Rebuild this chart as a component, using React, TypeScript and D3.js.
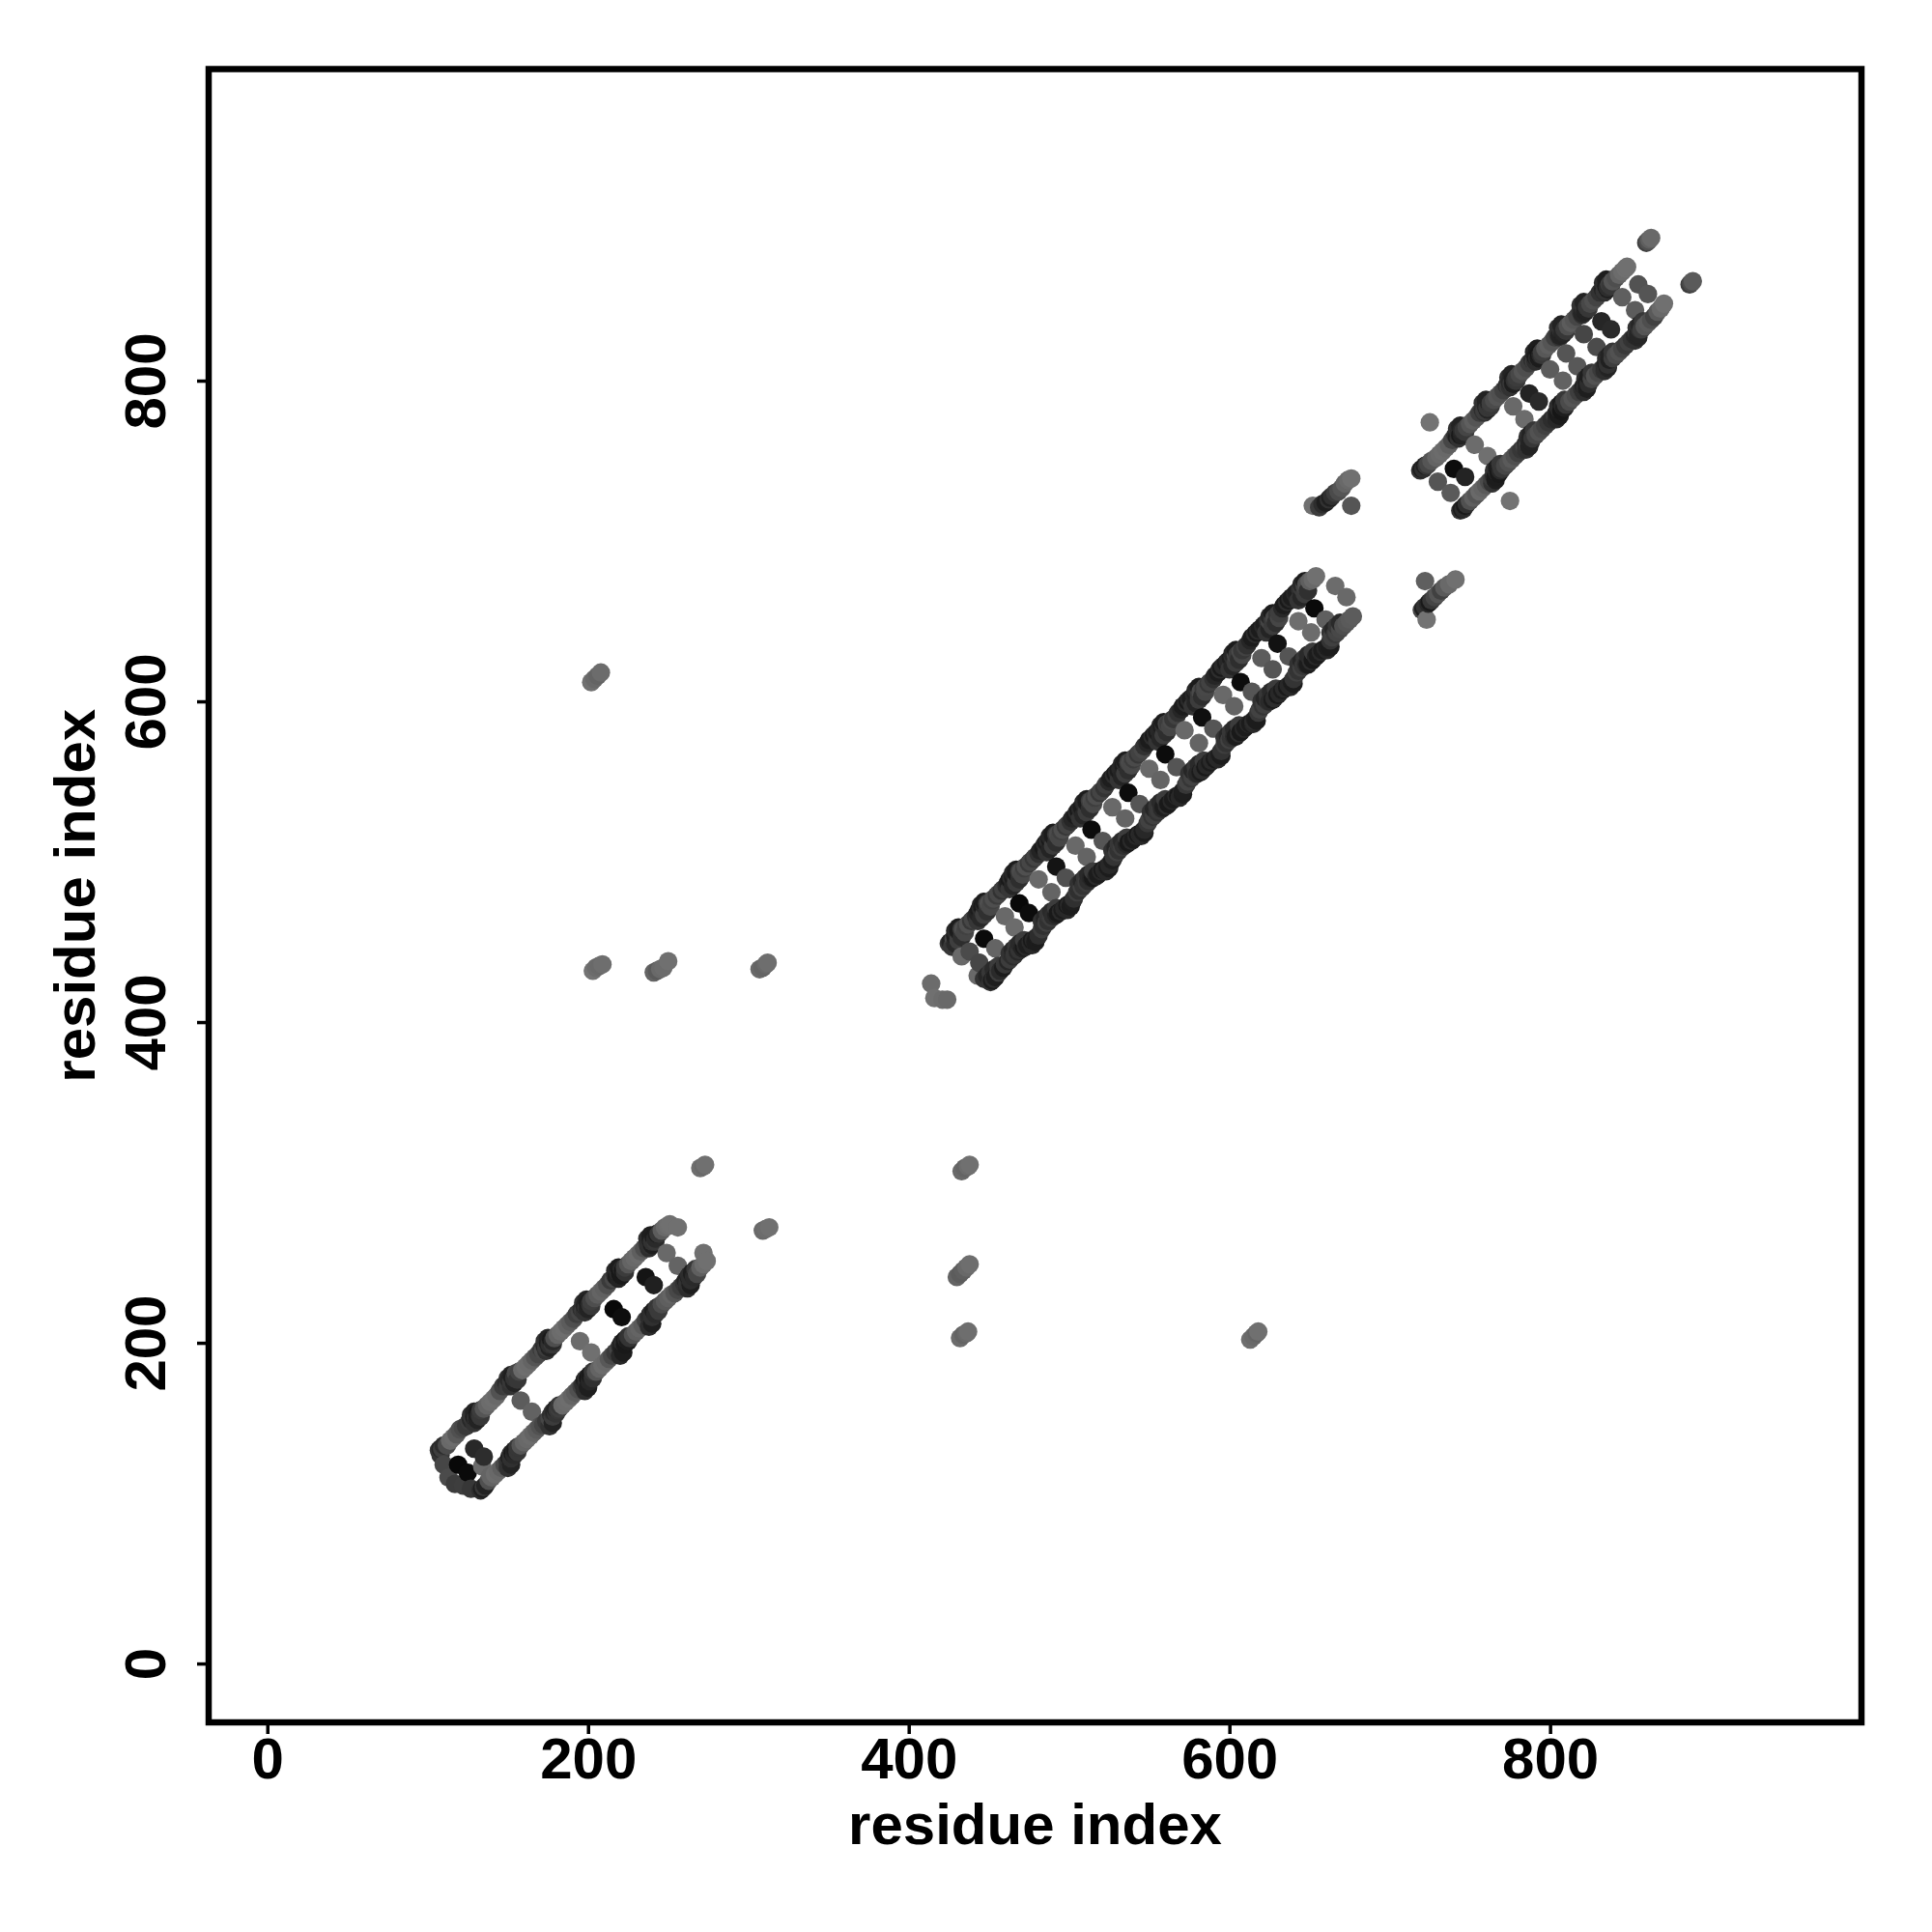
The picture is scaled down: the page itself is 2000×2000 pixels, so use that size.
import React, { useEffect, useRef } from 'react';
import * as d3 from 'd3';

// residue i, residue j, grey level of the dot
type Contact = [number, number, number];

const tickValues = [0, 200, 400, 600, 800];
const axisLabel = 'residue index';

const bandAUpper: Contact[] = [
  [107,133,58],[108,134,38],[109,134,62],[110,136,45],[112,136,75],[114,139,105],[116,141,108],[118,143,90],[120,146,80],[122,147,72],
  [124,148,58],[126,151,62],[127,152,40],[128,153,55],[129,154,30],[130,153,48],[131,156,25],[132,155,42],[133,158,60],[135,159,85],
  [137,161,100],[139,163,108],[141,165,110],[143,167,105],[145,170,82],[147,173,60],[149,175,45],[150,173,62],[151,177,38],[152,176,55],
  [153,179,30],[154,178,52],[155,181,72],[157,182,68],[159,183,105],[161,185,110],[163,187,108],[165,189,100],[167,191,85],[169,193,72],
  [171,196,58],[172,195,75],[173,198,40],[174,197,60],[175,200,28],[176,199,48],[177,202,25],[178,201,40],[179,203,78],[181,205,100],
  [183,207,108],[185,209,110],[187,211,100],[189,213,92],[191,215,78],[193,218,62],[195,219,70],[196,221,45],[197,220,58],[198,223,35],
  [199,222,50],[200,225,28],[201,224,42],[202,226,62],[204,228,78],[206,230,92],[208,232,100],[210,234,96],[212,236,80],[214,239,58],
  [216,240,72],[217,242,45],[218,241,28],[219,244,48],[220,243,25],[221,246,40],[222,245,22],[223,247,60],[225,249,85],[227,251,100],
  [229,253,105],[231,255,108],[233,257,95],[235,259,78],[237,262,60],[238,261,48],[239,264,35],[240,263,50],[241,266,28],[242,265,42],
  [243,268,30],[244,268,55],[246,270,92],[248,272,105],[250,273,110],[251,274,112],[256,272,112],
];

const bandAUpperSide: Contact[] = [
  [129,150,50],[131,152,35],[133,154,55],[152,173,50],[154,175,35],[156,177,55],[174,195,50],[176,197,35],[178,199,55],[198,219,50],
  [200,221,35],[202,223,55],[219,240,35],[221,242,25],[223,244,50],[238,259,45],[240,261,30],[242,263,55],
  [127,155,50],[129,157,35],[150,178,50],[152,180,35],[173,201,50],[175,203,35],[197,225,50],[199,227,35],[217,245,40],[219,247,28],
  [237,265,45],[239,267,30],
];

const bandALower: Contact[] = [
  [133,108,45],[134,109,30],[135,110,55],[136,111,35],[138,114,80],[140,116,100],[142,118,108],[144,120,105],[146,122,95],[148,124,72],
  [150,126,50],[151,129,30],[152,128,48],[153,131,25],[154,130,42],[155,133,28],[156,132,55],[158,136,85],[160,138,100],[162,140,105],
  [164,142,108],[166,144,100],[168,146,92],[170,148,82],[172,149,70],[174,151,58],[176,153,70],[177,155,45],[178,154,60],[179,157,38],
  [180,156,52],[181,158,55],[182,159,62],[184,161,105],[186,163,108],[188,165,110],[190,167,100],[192,169,92],[194,171,80],[196,173,62],
  [197,174,45],[198,177,28],[199,175,42],[200,178,22],[201,176,38],[202,180,25],[203,178,48],[205,182,85],[207,184,100],[209,186,108],
  [211,188,105],[213,190,88],[215,192,72],[217,194,58],[219,196,70],[220,198,45],[221,197,30],[222,200,48],[223,199,25],[224,202,40],
  [225,201,28],[226,203,52],[228,205,80],[230,207,95],[232,209,100],[234,211,90],[236,214,65],[238,216,45],[239,218,30],[240,216,48],
  [241,220,28],[242,218,42],[243,222,32],[244,220,58],[246,224,75],[248,226,88],[250,228,95],[252,230,100],[254,231,85],[256,233,72],
  [258,235,60],[260,237,50],[261,239,35],[262,237,50],[263,241,30],[264,239,45],[265,243,28],[266,241,42],[267,245,35],[268,243,70],
  [270,247,95],[272,249,108],[274,251,112],[272,256,112],
];

const bandALowerSide: Contact[] = [
  [152,131,50],[154,133,35],[156,135,55],[178,157,50],[180,159,35],[182,161,55],[199,178,50],[201,180,30],[203,182,55],[221,200,35],
  [223,202,25],[225,204,50],[239,218,45],[241,220,30],[243,222,55],[263,242,45],[265,244,30],[267,246,55],
  [150,122,50],[152,124,35],[176,148,50],[178,150,35],[198,170,45],[200,172,30],[220,192,40],[222,194,28],[238,210,45],[240,212,30],
  [262,234,45],[264,236,30],
];

const rungsA: Contact[] = [
  [108,130,52],[110,124,70],[113,116,75],[117,112,60],[122,111,62],[127,109,55],[119,124,8],[125,119,10],[129,134,40],[135,129,45],
  [134,123,105],[139,117,100],[158,164,92],[165,157,98],[195,201,108],[202,194,112],[216,221,8],[221,216,14],[236,241,20],[241,236,32],
  [249,256,105],[256,248,100],
];

const bandBUpper: Contact[] = [
  [425,449,60],[426,450,35],[428,452,70],[429,454,30],[430,456,45],[431,457,28],[433,458,60],[434,458,80],[436,460,65],[437,461,80],
  [439,463,55],[440,464,70],[442,466,45],[443,468,35],[444,470,28],[445,471,45],[446,472,25],[447,473,40],[449,474,60],[450,474,80],
  [452,476,65],[453,477,78],[455,479,60],[456,480,72],[458,482,50],[459,483,65],[461,485,45],[462,487,32],[463,489,25],[464,490,45],
  [465,491,28],[466,492,40],[467,493,25],[469,494,60],[470,494,78],[472,496,62],[473,497,80],[475,499,58],[476,500,70],[478,502,55],
  [479,503,68],[481,505,48],[482,507,35],[484,509,25],[485,511,42],[486,512,28],[487,513,45],[488,514,25],[489,515,40],[490,516,30],
  [492,517,58],[493,517,75],[495,519,62],[496,520,78],[498,522,55],[499,523,68],[501,525,50],[502,527,38],[504,529,28],[505,531,45],
  [506,532,25],[507,533,42],[508,534,28],[510,536,45],[511,537,30],[513,538,60],[514,538,76],[516,540,62],[517,541,78],[519,543,55],
  [520,544,68],[522,546,52],[523,548,62],[525,550,40],[526,552,30],[528,554,45],[529,555,25],[530,556,42],[531,557,28],[532,558,40],
  [534,560,28],[535,561,45],[537,562,62],[538,562,76],[540,564,60],[541,565,74],[543,567,55],[544,568,66],[546,570,72],[547,572,50],
  [549,574,38],[550,576,28],[552,578,45],[553,579,25],[554,580,42],[555,581,28],[556,582,40],[558,584,30],[559,585,48],[561,586,70],
  [562,586,60],[564,588,75],[565,589,55],[567,591,66],[568,593,50],[570,595,38],[571,597,28],[573,599,45],[574,600,25],[575,601,42],
  [576,602,28],[578,604,40],[579,605,30],[581,606,60],[582,606,74],[584,608,58],[585,609,72],[587,611,55],[588,612,66],[590,614,50],
  [591,616,38],[593,618,28],[594,620,45],[595,621,25],[596,622,42],[598,624,28],[599,625,40],[601,627,30],[602,628,48],[604,629,70],
  [605,629,60],[607,631,74],[608,632,55],[610,634,66],[611,635,50],[613,638,38],[614,640,28],[616,642,45],[617,643,25],[618,644,42],
  [619,645,28],[621,647,40],[622,648,30],[624,650,48],[625,650,68],[627,651,58],[628,652,72],[630,654,55],[631,655,62],[633,658,40],
  [634,660,28],[636,662,45],[637,663,25],[638,664,42],[639,665,28],[641,667,40],[642,668,32],[644,670,48],[645,671,58],[647,672,68],
  [648,673,80],[650,675,95],[652,676,105],[654,678,112],
];

const bandBUpperSide: Contact[] = [
  [427,447,55],[429,449,40],[431,451,62],[433,453,45],[435,456,70],[443,463,55],[445,465,40],[447,467,62],[449,469,48],[451,472,72],
  [463,483,55],[465,485,38],[467,487,60],[469,489,46],[471,492,72],[486,506,52],[488,508,36],[490,510,60],[492,512,46],[494,515,70],
  [507,527,52],[509,529,38],[511,531,60],[513,533,46],[515,536,72],[531,551,52],[533,553,36],[535,555,60],[537,557,46],[539,560,72],
  [555,575,52],[557,577,38],[559,579,60],[561,581,46],[563,584,70],[577,597,52],[579,599,36],[581,601,60],[583,603,46],[585,606,70],
  [600,620,52],[602,622,38],[604,624,60],[606,626,46],[608,629,70],[623,643,52],[625,645,36],[627,647,60],[629,649,46],[631,652,70],
  [643,663,52],[645,665,38],[647,667,60],[649,669,48],
  [429,457,40],[431,459,28],[445,473,40],[447,475,28],[465,493,40],[467,495,28],[488,516,40],[490,518,28],[509,537,40],[511,539,28],
  [533,561,40],[535,563,28],[557,585,40],[559,587,28],[579,607,40],[581,609,28],[602,630,40],[604,632,28],[625,653,40],[627,655,28],
  [645,673,40],[647,675,28],
];

const bandBLower: Contact[] = [
  [451,425,50],[452,426,28],[453,427,45],[454,428,30],[456,431,60],[457,432,42],[459,434,28],[460,436,55],[462,438,38],[463,439,60],
  [465,441,45],[466,442,55],[468,444,40],[469,445,52],[471,446,35],[472,447,25],[473,447,42],[474,448,30],[476,450,42],[477,451,25],
  [478,451,40],[480,453,28],[481,454,45],[483,458,60],[484,460,48],[486,462,65],[487,463,50],[489,465,62],[490,466,45],[492,467,35],
  [493,468,25],[495,469,42],[496,470,28],[497,471,40],[499,473,25],[500,473,42],[502,475,30],[503,477,48],[505,481,62],[506,482,48],
  [508,484,66],[509,485,52],[511,487,60],[512,488,45],[514,490,35],[515,490,25],[517,491,42],[518,492,28],[520,494,40],[521,495,25],
  [522,495,42],[524,497,28],[525,498,40],[527,501,30],[528,503,52],[530,506,65],[531,507,50],[533,509,62],[534,510,48],[536,511,38],
  [537,512,25],[539,513,42],[540,514,28],[542,516,40],[543,517,25],[544,517,42],[546,519,28],[547,520,40],[549,524,55],[550,526,66],
  [552,528,52],[553,529,64],[555,531,50],[556,532,58],[558,533,42],[559,534,30],[561,535,45],[562,536,25],[564,538,40],[565,539,28],
  [567,541,42],[568,541,25],[570,543,40],[571,544,30],[573,548,55],[574,550,68],[576,552,54],[577,553,66],[579,555,50],[580,555,40],
  [582,556,28],[583,557,45],[585,559,25],[586,560,40],[588,562,28],[589,563,42],[591,564,25],[592,565,40],[594,567,30],[595,569,50],
  [597,573,62],[598,574,50],[600,576,65],[601,577,52],[603,578,42],[604,578,28],[606,580,45],[607,581,25],[609,583,40],[610,584,28],
  [612,586,42],[613,586,28],[615,588,45],[616,589,32],[618,593,55],[619,595,66],[621,597,52],[622,598,64],[624,600,50],[625,600,42],
  [627,601,28],[628,602,45],[630,604,25],[631,605,40],[633,607,28],[634,608,42],[636,609,25],[637,610,40],[639,612,30],[640,614,52],
  [642,618,64],[643,619,52],[645,621,66],[646,622,55],[648,623,42],[649,623,28],[651,625,45],[652,626,25],[654,628,40],[655,629,28],
  [657,631,42],[658,632,28],[660,633,40],[661,634,30],[663,638,52],[664,640,64],[666,642,55],[667,643,68],[669,645,72],[671,647,78],
  [673,649,85],[675,651,90],[677,653,92],
];

const bandBLowerSide: Contact[] = [
  [447,427,50],[449,429,38],[451,431,55],[453,433,42],[456,435,60],[463,443,50],[465,445,38],[467,447,55],[469,449,42],[472,451,60],
  [483,463,50],[485,465,38],[487,467,55],[489,469,42],[492,471,60],[506,486,50],[508,488,38],[510,490,55],[512,492,42],[515,494,60],
  [527,507,50],[529,509,38],[531,511,55],[533,513,42],[536,515,60],[551,531,50],[553,533,38],[555,535,55],[557,537,42],[560,539,60],
  [575,555,50],[577,557,38],[579,559,55],[581,561,42],[584,563,60],[597,577,50],[599,579,38],[601,581,55],[603,583,42],[606,585,60],
  [620,600,50],[622,602,38],[624,604,55],[626,606,42],[629,608,60],[643,623,50],[645,625,38],[647,627,55],[649,629,42],[652,631,60],
  [663,643,50],[665,645,38],[667,647,55],[669,649,42],
  [477,448,40],[479,450,28],[499,470,40],[501,472,28],[523,494,40],[525,496,28],[545,516,40],[547,518,28],[569,540,40],[571,542,28],
  [593,564,40],[595,566,28],[615,586,40],[617,588,28],[638,609,40],[640,611,28],[661,632,40],[663,634,28],
];

const rungsB: Contact[] = [
  [438,444,75],[444,437,70],[433,441,105],[443,429,105],[447,452,10],[454,446,100],[460,466,105],[466,459,108],[469,474,8],[475,468,12],
  [481,489,105],[489,481,100],[492,497,20],[498,490,80],[504,510,105],[511,503,100],[514,520,12],[521,513,85],[527,534,105],[535,527,100],
  [537,543,12],[544,536,85],[550,558,105],[557,551,100],[560,567,12],[567,559,85],[572,582,105],[581,574,100],[583,590,15],[590,583,85],
  [596,604,105],[603,597,100],[607,612,12],[614,606,85],[620,627,92],[627,620,85],[630,636,18],[637,628,85],[643,650,110],[651,643,108],
  [653,658,10],[660,651,95],[666,672,108],[673,665,105],
];

const bandCUpper: Contact[] = [
  [719,744,50],[720,745,28],[721,745,45],[722,747,30],[723,747,55],[724,748,70],[726,750,85],[729,752,100],[731,754,105],[733,756,108],
  [735,758,105],[737,760,95],[739,763,70],[741,766,48],[742,765,30],[743,767,45],[744,766,25],[745,769,42],[746,769,55],[748,771,70],
  [750,773,85],[752,775,95],[754,777,85],[756,780,62],[758,782,45],[759,781,60],[760,784,38],[761,783,55],[762,786,35],[763,786,62],
  [765,788,75],[767,790,85],[769,792,80],[771,794,65],[773,797,48],[774,796,62],[775,799,40],[776,798,55],[777,801,30],[778,800,48],
  [779,802,60],[781,804,72],[783,806,85],[785,808,78],[787,811,60],[789,813,45],[790,812,60],[791,815,28],[792,814,45],[793,817,22],
  [794,816,40],[795,818,62],[797,820,88],[799,822,95],[801,824,85],[803,827,65],[805,829,50],[806,828,35],[807,831,50],[808,830,38],
  [809,832,55],[811,834,80],[813,836,92],[815,838,85],[817,840,70],[819,843,55],[820,842,38],[821,845,50],[822,844,35],[823,846,55],
  [825,848,72],[827,850,80],[829,852,68],[831,855,50],[833,857,35],[834,856,52],[835,859,30],[836,858,45],[837,860,62],[839,862,85],
  [841,864,78],[843,866,100],[845,868,108],[847,870,112],[848,871,112],
];

const bandCUpperSide: Contact[] = [
  [743,764,50],[745,766,35],[747,768,55],[759,780,50],[761,782,35],[763,784,55],[775,796,50],[777,798,30],[779,800,55],[791,812,45],
  [793,814,28],[795,816,55],[806,827,50],[808,829,35],[810,831,55],[820,841,50],[822,843,35],[824,845,55],[834,855,45],[836,857,30],
  [838,859,55],
  [742,770,50],[744,772,35],[758,786,50],[760,788,35],[774,802,50],[776,804,35],[790,818,40],[792,820,28],[805,833,50],[807,835,35],
  [819,847,50],[821,849,35],[833,861,45],[835,863,30],
];

const bandCLower: Contact[] = [
  [744,719,50],[745,720,28],[746,720,42],[747,722,25],[748,723,48],[750,725,80],[752,727,95],[754,729,85],[756,731,105],[758,733,100],
  [760,735,90],[762,737,75],[764,739,60],[765,741,42],[766,740,28],[767,743,45],[768,742,25],[769,744,40],[770,745,55],[772,747,70],
  [774,749,80],[776,751,90],[778,753,80],[780,755,65],[782,757,55],[784,759,68],[785,761,45],[786,760,60],[787,763,40],[788,762,35],
  [789,764,55],[791,766,70],[793,768,82],[795,770,75],[797,772,65],[799,774,55],[801,776,45],[803,778,58],[804,780,40],[805,779,28],
  [806,782,45],[807,781,22],[808,784,40],[809,783,30],[810,785,55],[812,787,75],[814,789,85],[816,791,78],[818,793,62],[820,795,48],
  [821,797,35],[822,796,48],[823,799,30],[824,798,45],[826,801,70],[828,803,82],[830,805,72],[832,807,58],[834,809,45],[835,811,35],
  [836,810,50],[837,813,32],[839,814,62],[841,816,75],[843,818,82],[845,820,70],[847,822,58],[849,824,65],[851,826,52],[853,828,40],
  [854,830,55],[855,829,38],[856,832,50],[857,832,62],[859,834,85],[861,836,90],[863,838,78],[865,840,65],[867,843,90],[869,845,105],
  [871,848,112],
];

const bandCLowerSide: Contact[] = [
  [765,744,50],[767,746,30],[769,748,55],[786,765,50],[788,767,35],[790,769,55],[805,784,45],[807,786,28],[809,788,55],[822,801,45],
  [824,803,30],[826,805,55],[835,814,45],[837,816,35],[839,818,55],[854,833,50],[856,835,38],[858,837,55],
  [764,736,50],[766,738,30],[785,757,50],[787,759,35],[804,776,40],[806,778,28],[821,793,45],[823,795,30],[834,806,45],[836,808,35],
  [853,825,50],[855,827,38],
];

const rungsC: Contact[] = [
  [730,737,85],[738,730,90],[740,745,12],[747,740,35],[753,760,108],[761,753,112],[777,784,105],[784,776,108],[787,792,35],[793,787,42],
  [800,807,92],[808,800,98],[810,817,85],[817,809,88],[821,829,70],[829,821,75],[832,837,38],[838,832,42],[845,852,95],[853,844,92],
  [855,860,82],[861,854,85],[725,774,115],[775,725,115],
];

const islands: Contact[] = [
  [652,722,112],[656,721,60],[658,723,45],[660,724,30],[662,726,50],[663,727,32],[664,728,48],[666,730,60],[668,731,75],[670,733,85],[672,736,100],[674,738,105],[676,739,112],[676,722,85],
  [722,675,95],[723,651,115],[720,657,70],[721,658,30],[722,659,50],[724,661,40],[725,662,25],[726,663,55],[728,665,70],[730,667,85],[732,669,65],[734,671,90],[737,673,105],[741,676,112],
  [860,886,65],[861,887,80],[862,888,95],[863,889,105],[887,860,60],[888,861,75],[889,862,90],
  [202,612,112],[204,614,105],[206,616,100],[208,618,108],
  [203,432,115],[205,434,108],[207,435,105],[209,436,110],
  [241,431,100],[243,432,90],[245,433,105],[247,434,108],[250,438,112],
  [307,433,105],[309,434,100],[311,436,105],[312,437,110],
  [414,424,108],[416,415,112],[421,414,108],[424,414,105],
  [270,309,110],[272,310,105],[273,311,112],
  [309,270,105],[311,271,108],[313,272,112],
  [433,307,105],[435,309,100],[437,310,108],[438,311,112],
  [430,241,100],[432,243,92],[434,245,95],[436,247,105],[438,249,110],
  [432,203,108],[434,205,100],[436,206,105],[437,207,110],
  [613,202,110],[615,204,105],[617,206,100],[618,207,112],
];

const WIDTH = 2000;
const HEIGHT = 2000;
const margin = { top: 71.5, right: 73, bottom: 217, left: 216 };

const ContactMap: React.FC = () => {
  const svgRef = useRef<SVGSVGElement>(null);

  useEffect(() => {
    if (!svgRef.current) return;
    const svg = d3.select(svgRef.current);
    svg.selectAll('*').remove();

    const x = d3.scaleLinear().domain([-36.6, 994.2]).range([margin.left, WIDTH - margin.right]);
    const y = d3.scaleLinear().domain([-36.7, 994.3]).range([HEIGHT - margin.bottom, margin.top]);

    // R draws them in index order, so later dots sit on top of earlier ones
    const contacts = [
      ...bandAUpper, ...bandAUpperSide, ...bandALower, ...bandALowerSide, ...rungsA,
      ...bandBUpper, ...bandBUpperSide, ...bandBLower, ...bandBLowerSide, ...rungsB,
      ...bandCUpper, ...bandCUpperSide, ...bandCLower, ...bandCLowerSide, ...rungsC,
      ...islands,
    ].sort((a, b) => d3.ascending(a[0], b[0]) || d3.ascending(a[1], b[1]));

    svg.append('g')
      .selectAll('circle')
      .data(contacts)
      .enter()
      .append('circle')
      .attr('cx', d => x(d[0]))
      .attr('cy', d => y(d[1]))
      .attr('r', 9.6)
      .attr('fill', d => d3.rgb(d[2], d[2], d[2]).formatHex());

    // X axis
    const xAxis = svg.append('g')
      .attr('transform', `translate(0,${HEIGHT - margin.bottom})`)
      .call(d3.axisBottom(x).tickValues(tickValues).tickSize(12).tickPadding(3.5).tickFormat(d3.format('d')));
    xAxis.select('.domain').remove();

    // Y axis, labels turned like R does
    const yAxis = svg.append('g')
      .attr('transform', `translate(${margin.left},0)`)
      .call(d3.axisLeft(y).tickValues(tickValues).tickSize(12).tickFormat(d3.format('d')));
    yAxis.select('.domain').remove();
    yAxis.selectAll('text')
      .attr('x', null)
      .attr('dy', null)
      .attr('transform', 'translate(-45,0) rotate(-90)')
      .style('text-anchor', 'middle');

    svg.selectAll('.tick line').attr('stroke', '#000').attr('stroke-width', 3.5);
    svg.selectAll('.tick text')
      .attr('fill', '#000')
      .style('font-family', '"Liberation Sans", sans-serif')
      .style('font-weight', 700)
      .style('font-size', '60px');

    // Frame
    svg.append('rect')
      .attr('x', margin.left)
      .attr('y', margin.top)
      .attr('width', WIDTH - margin.left - margin.right)
      .attr('height', HEIGHT - margin.top - margin.bottom)
      .attr('fill', 'none')
      .attr('stroke', '#000')
      .attr('stroke-width', 6.5);

    svg.append('text')
      .attr('x', (margin.left + WIDTH - margin.right) / 2)
      .attr('y', 1909)
      .attr('text-anchor', 'middle')
      .style('font-family', '"Liberation Sans", sans-serif')
      .style('font-weight', 700)
      .style('font-size', '60px')
      .text(axisLabel);

    svg.append('text')
      .attr('transform', `translate(98,${(margin.top + HEIGHT - margin.bottom) / 2}) rotate(-90)`)
      .attr('text-anchor', 'middle')
      .style('font-family', '"Liberation Sans", sans-serif')
      .style('font-weight', 700)
      .style('font-size', '60px')
      .text(axisLabel);
  }, []);

  return (
    <svg
      ref={svgRef}
      width={WIDTH}
      height={HEIGHT}
      style={{ position: 'absolute', left: 0, top: 0, display: 'block', background: '#fff' }}
    />
  );
};

export default function App() {
  return <ContactMap />;
}
